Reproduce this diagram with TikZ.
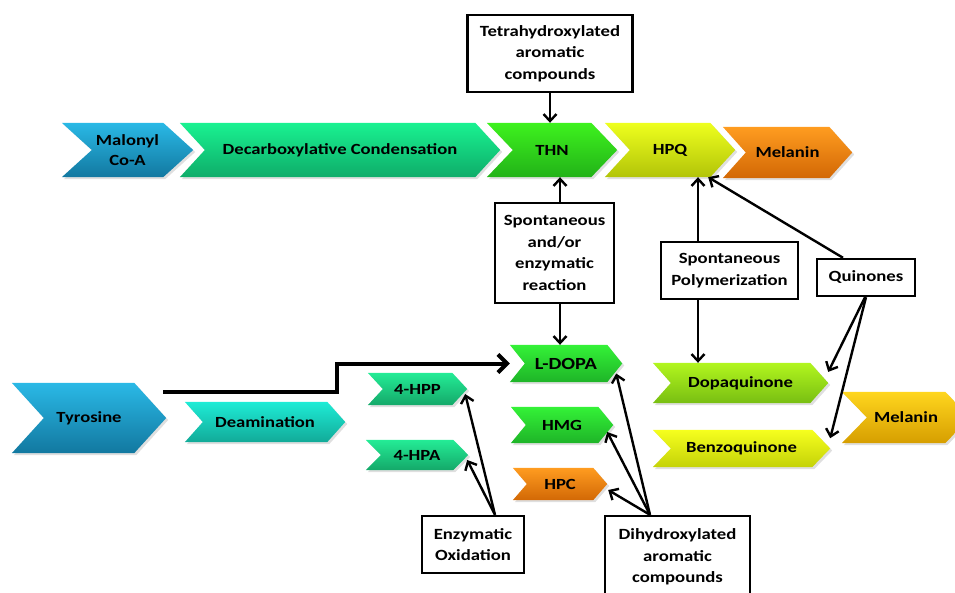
\documentclass[tikz,border=0pt]{standalone}
\usepackage{fontspec}
\setmainfont{Carlito}[FakeStretch=1.2]
\usetikzlibrary{arrows.meta,shadows,backgrounds,calc}
\definecolor{blueT}{RGB}{42,185,230}\definecolor{blueB}{RGB}{18,120,160}
\definecolor{mintT}{RGB}{25,242,145}\definecolor{mintB}{RGB}{14,172,105}
\definecolor{grnT}{RGB}{62,242,30}\definecolor{grnB}{RGB}{34,178,24}
\definecolor{yelT}{RGB}{238,255,30}\definecolor{yelB}{RGB}{178,196,8}
\definecolor{orT}{RGB}{255,156,32}\definecolor{orB}{RGB}{210,104,5}
\definecolor{turT}{RGB}{30,236,214}\definecolor{turB}{RGB}{18,170,152}
\definecolor{tgT}{RGB}{36,236,150}\definecolor{tgB}{RGB}{20,168,105}
\definecolor{lgT}{RGB}{52,242,55}\definecolor{lgB}{RGB}{30,180,40}
\definecolor{limeT}{RGB}{178,246,30}\definecolor{limeB}{RGB}{120,190,18}
\definecolor{byT}{RGB}{246,255,30}\definecolor{byB}{RGB}{196,210,8}
\definecolor{goldT}{RGB}{255,214,30}\definecolor{goldB}{RGB}{214,158,0}
\tikzset{
  chevtext/.style={inner sep=0pt, align=center, font=\bfseries\fontsize{15.5}{20}\selectfont},
  chevshade/.style={drop shadow={opacity=0.25, shadow xshift=2pt, shadow yshift=-2pt}},
  txtbox/.style={draw, line width=2.4pt, inner sep=0pt, align=center, fill=white,
    font=\bfseries\fontsize{15.6}{21.5}\selectfont},
  arr/.style={line width=2.4pt, -{Straight Barb[length=7pt,width=13pt]}},
  bigarr/.style={line width=4pt, -{Straight Barb[length=9pt,width=18pt]}},
}
\newcommand{\chev}[8]{%
  \node[chevtext, minimum width=#3, minimum height=#4] (#1) at (#2) {#8};
  \begin{pgfonlayer}{background}
  \shade[top color=#6, bottom color=#7, chevshade] (#1.north west) -- ([xshift=-#5]#1.north east) -- (#1.east) -- ([xshift=-#5]#1.south east) -- (#1.south west) -- ([xshift=#5]#1.west) -- cycle;
  \end{pgfonlayer}
}
\begin{document}
\begin{tikzpicture}[x=1pt,y=-1pt]
\useasboundingbox (0,0) rectangle (955,593);
% top row
\chev{mal}{127.5,150}{131pt}{54pt}{30pt}{blueT}{blueB}{Malonyl\\Co-A}
\chev{dec}{340,150}{320pt}{54pt}{25pt}{mintT}{mintB}{Decarboxylative Condensation}
\chev{thn}{552,150}{130pt}{54pt}{26pt}{grnT}{grnB}{THN}
\chev{hpq}{670,150}{130pt}{54pt}{25pt}{yelT}{yelB}{HPQ}
\chev{melA}{787.5,152.5}{129pt}{51pt}{23pt}{orT}{orB}{Melanin}
% lower
\chev{tyr}{89,418}{154pt}{70pt}{32pt}{blueT}{blueB}{Tyrosine}
\chev{deam}{265,422}{160pt}{40pt}{18pt}{turT}{turB}{Deamination}
\chev{hpp}{417.5,389}{99pt}{32pt}{15pt}{tgT}{tgB}{4-HPP}
\chev{hpa}{417,455}{102pt}{30pt}{15pt}{tgT}{tgB}{4-HPA}
\chev{ldopa}{566,363.5}{112pt}{37pt}{15pt}{lgT}{lgB}{\fontsize{17}{20}\selectfont L-DOPA}
\chev{hmg}{562,425}{102pt}{36pt}{15pt}{lgT}{lgB}{HMG}
\chev{hpc}{560,484}{94pt}{32pt}{14pt}{orT}{orB}{HPC}
\chev{dopa}{740.5,383}{175pt}{40pt}{18pt}{limeT}{limeB}{Dopaquinone}
\chev{benz}{741.5,448.5}{177pt}{37pt}{18pt}{byT}{byB}{Benzoquinone}
\chev{melB}{906,417.5}{128pt}{51pt}{25pt}{goldT}{goldB}{Melanin}
% boxes
\node[txtbox, minimum width=165pt, minimum height=77pt] (tetra) at (550,53.5) {Tetrahydroxylated\\aromatic\\compounds};
\node[txtbox, minimum width=119pt, minimum height=100pt] (spont) at (554.5,253) {Spontaneous\\and/or\\enzymatic\\reaction};
\node[txtbox, minimum width=137pt, minimum height=57pt] (poly) at (729.5,270.5) {Spontaneous\\Polymerization};
\node[txtbox, minimum width=98pt, minimum height=37pt] (quin) at (866,277.5) {Quinones};
\node[txtbox, minimum width=102pt, minimum height=57pt] (enz) at (473,544.5) {Enzymatic\\Oxidation};
\node[txtbox, minimum width=145pt, minimum height=82pt] (dihyd) at (677.5,557) {Dihydroxylated\\aromatic\\compounds};
% connectors
\draw[arr] (tetra.south) -- (tetra.south |- thn.north);
\draw[arr] ([xshift=5.5pt]spont.north) -- ([xshift=5.5pt]spont.north |- thn.south);
\draw[arr] ([xshift=5.5pt]spont.south) -- ([xshift=5.5pt]spont.south |- ldopa.north);
\draw[arr] ([xshift=-31.5pt]poly.north) -- ([xshift=-31.5pt]poly.north |- hpq.south);
\draw[arr] ([xshift=-31.5pt]poly.south) -- ([xshift=-31.5pt]poly.south |- dopa.north);
\draw[arr] ([xshift=-23pt]quin.north) -- ([xshift=-27pt]hpq.south east);
\draw[arr] ([xshift=-1pt]quin.south) -- ($(dopa.north east)!0.45!(dopa.east)$);
\draw[arr] ([xshift=0pt]quin.south) -- ($(benz.north east)!0.45!(benz.east)$);
\draw[arr] ([xshift=22pt]enz.north) -- ([shift={(-2pt,-5pt)}]hpp.east);
\draw[arr] ([xshift=22pt]enz.north) -- ([shift={(-1pt,-5pt)}]hpa.east);
\draw[arr] ([xshift=-27.5pt]dihyd.north) -- ([shift={(-6pt,-10pt)}]ldopa.east);
\draw[arr] ([xshift=-27.5pt]dihyd.north) -- ([shift={(-6pt,-7pt)}]hmg.east);
\draw[arr] ([xshift=-27.5pt]dihyd.north) -- ([shift={(1pt,-6pt)}]hpc.east);
\coordinate (tstart) at (163,392);
\draw[bigarr] (tstart) -- ++(174,0) |- (ldopa.west);
\end{tikzpicture}
\end{document}
